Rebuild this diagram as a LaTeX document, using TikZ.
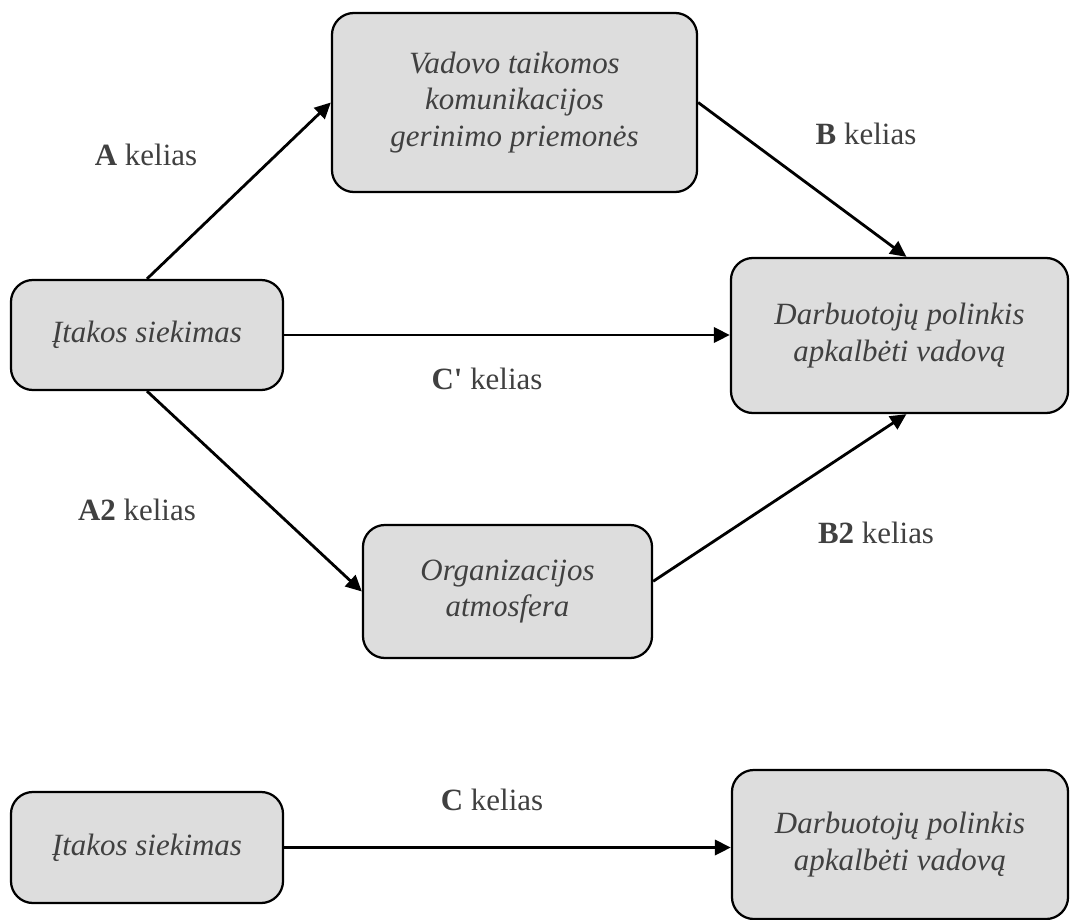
\documentclass[tikz,border=0pt]{standalone}
\usepackage{fontspec}
\setmainfont{Liberation Serif}
\usepackage{tikz}
\usetikzlibrary{arrows.meta}
\usepackage{xcolor}
\definecolor{boxfill}{HTML}{DDDDDD}
\definecolor{ink}{HTML}{404040}

\begin{document}
\begin{tikzpicture}[x=0.025cm, y=-0.025cm,
   box/.style={draw=black, line width=1.6pt, fill=boxfill, rounded corners=0.55cm,
      text=ink, align=center, font=\fontsize{22}{26}\selectfont\itshape},
   path/.style={text=ink, font=\fontsize{22}{26}\selectfont},
   arr/.style={line width=2pt, -{Triangle[length=0.4cm,width=0.38cm]}}]
\useasboundingbox (0,0) rectangle (1072,920);

\node[box, minimum width=6.8cm, minimum height=2.75cm] (I) at (147,335) {Įtakos siekimas};
\node[box, minimum width=9.125cm, minimum height=4.475cm] (V) at (514.5,102.5) {Vadovo taikomos\\komunikacijos\\gerinimo priemonės};
\node[box, minimum width=8.425cm, minimum height=3.875cm] (D) at (899.5,335.5) {Darbuotojų polinkis\\apkalbėti vadovą};
\node[box, minimum width=7.225cm, minimum height=3.325cm] (O) at (507.5,591.5) {Organizacijos\\atmosfera};

\node[box, minimum width=6.8cm, minimum height=2.775cm] (I2) at (147,847.5) {Įtakos siekimas};
\node[box, minimum width=8.4cm, minimum height=3.725cm] (D2) at (900,844.5) {Darbuotojų polinkis\\apkalbėti vadovą};

\node[path] (pA) at (146,155) {\textbf{A} kelias};
\node[path] (pB) at (866,134) {\textbf{B} kelias};
\node[path] (pC1) at (487,379) {\textbf{C\textquotesingle} kelias};
\node[path] (pA2) at (137,510) {\textbf{A2} kelias};
\node[path] (pB2) at (876,533) {\textbf{B2} kelias};
\node[path] (pC) at (492,800) {\textbf{C} kelias};

\draw[arr] (I.north) -- (V.west);
\draw[arr] (V.east) -- (D.85);
\draw[arr] (I.east) -- (I.east -| D.west);
\draw[arr] (I.south) -- (O.west);
\draw[arr] (O.4) -- (D.-85);
\draw[arr] (I2.east) -- (I2.east -| D2.west);
\end{tikzpicture}
\end{document}
